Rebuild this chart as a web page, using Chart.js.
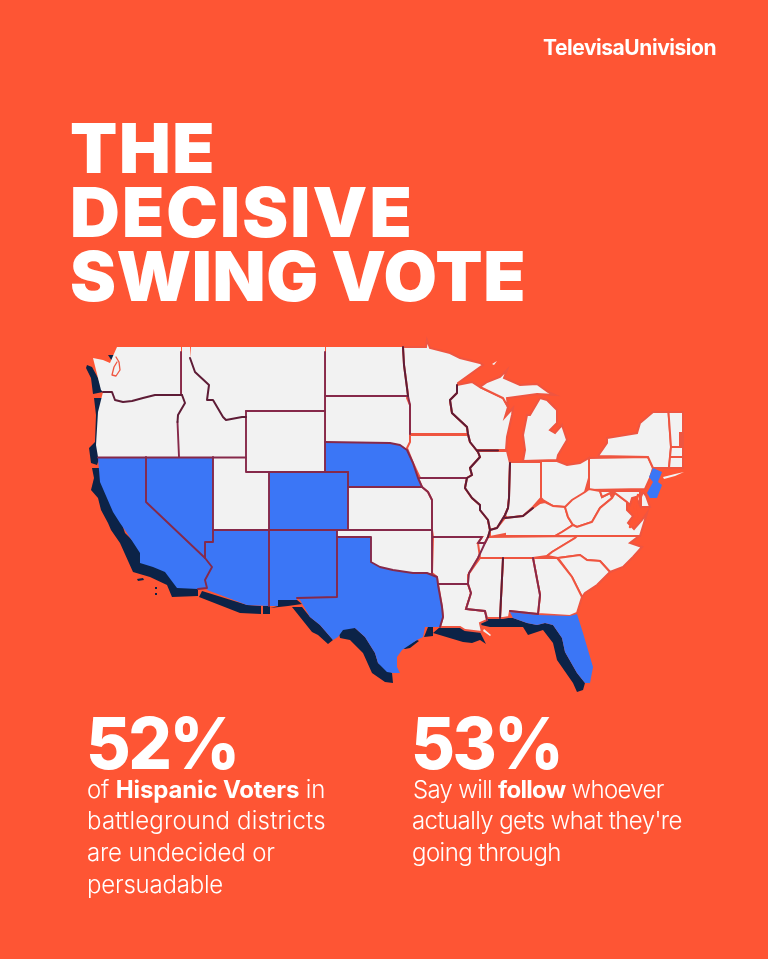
<!DOCTYPE html>
<html><head><meta charset="utf-8">
<script src="https://cdn.jsdelivr.net/npm/chart.js@4/dist/chart.umd.min.js"></script>
<style>
html,body{margin:0;padding:0;background:#fe5534;width:768px;height:959px;overflow:hidden}
#wrap{position:relative;width:768px;height:959px}
canvas{position:absolute;left:0;top:0}
.t{position:absolute;white-space:nowrap;color:#fff;font-family:Inter,"Liberation Sans",sans-serif}
.h{font-size:69px;font-weight:900;line-height:64px}
.n{font-size:71px;font-weight:800;line-height:60px;letter-spacing:-2.6px;transform-origin:left top}
.s{font-size:24px;font-weight:300;line-height:32px}
.s b{font-weight:700}
.l{font-size:21px;font-weight:700;line-height:24px;letter-spacing:-0.45px}
</style></head><body><div id="wrap">
<canvas id="c" width="768" height="959"></canvas>
<div class="t l" style="left:543px;top:36px">TelevisaUnivision</div>
<div class="t h" style="left:70px;top:116px;letter-spacing:1.6px">THE</div>
<div class="t h" style="left:70px;top:180px;letter-spacing:2.1px">DECISIVE</div>
<div class="t h" style="left:70px;top:244px;letter-spacing:0.6px;word-spacing:-2px">SWING VOTE</div>
<div class="t n" style="left:86px;top:713px;transform:scaleX(.967)">52%</div>
<div class="t n" style="left:411px;top:713px;transform:scaleX(.95)">53%</div>
<div class="t s" style="left:87px;top:774px;letter-spacing:-0.15px">of <b>Hispanic Voters</b> in</div>
<div class="t s" style="left:87px;top:805px;letter-spacing:0.2px">battleground districts</div>
<div class="t s" style="left:87px;top:837px;letter-spacing:-0.15px">are undecided or</div>
<div class="t s" style="left:87px;top:869px;letter-spacing:-0.2px">persuadable</div>
<div class="t s" style="left:413px;top:774px;letter-spacing:-0.68px">Say will <b>follow</b> whoever</div>
<div class="t s" style="left:412px;top:805px;letter-spacing:-0.58px">actually gets what they're</div>
<div class="t s" style="left:412px;top:837px;letter-spacing:-0.55px">going through</div>
</div>
<script>
// Outlines, in map units
const navyPieces = [
 [[87,365],[92,367],[98,378],[103,392],[93,394],[91,378],[86,368]],
 [[108,355],[116,355],[118,360],[112,361]],
 [[94,398],[102,398],[100,440],[100,456],[97,465],[91,463],[89,448],[95,442],[96,415]],
 [[92,468],[100,468],[105,490],[118,512],[125,533],[145,553],[145,563],[170,572],[182,585],[198,585],[198,596],[172,597],[167,585],[150,577],[133,572],[120,543],[111,530],[108,523],[101,510],[98,498],[91,490],[94,478]],
 [[199,597],[202,591],[247,605],[261,606],[261,614],[240,613]],
 [[263,606],[270,606],[270,614],[263,614]],
 [[270,608],[278,606],[278,600],[297,600],[302,604],[288,606]],
 [[292,607],[302,607],[310,617],[320,625],[333,640],[328,644],[318,635],[312,632]],
 [[339,633],[345,626],[355,628],[365,637],[375,653],[378,663],[392,673],[393,683],[385,682],[372,673],[363,653],[350,640],[340,638]],
 [[402,648],[417,640],[419,641],[410,648],[405,649]],
 [[424,637],[428,627],[433,627],[433,636]],
 [[433,633],[440,627],[460,627],[465,630],[480,632],[483,638],[486,644],[480,640],[472,643],[463,642]],
 [[478,622],[482,618],[513,618],[527,623],[537,625],[545,623],[553,625],[562,638],[565,652],[577,673],[585,683],[583,690],[577,692],[573,683],[557,660],[553,643],[543,630],[528,635],[523,627],[490,627],[481,625]],
 [[137,579],[143,578],[144,580],[138,581]],
 [[155,587],[157,587],[157,589],[155,589]],
 [[155,593],[157,593],[157,595],[155,595]]
];
const CA=[[98,458],[146,457],[146,502],[205,558],[212,567],[205,580],[207,588],[198,589],[177,588],[165,572],[153,567],[140,563],[140,553],[127,533],[120,523],[113,512],[100,482]];
const NV=[[146,457],[213,457],[213,542],[205,542],[205,558],[146,502]];
const AZ=[[213,530],[269,530],[269,606],[247,605],[207,590],[205,580],[212,567],[205,558],[205,542],[213,542]];
const NM=[[269,530],[337,530],[337,597],[297,598],[297,600],[278,600],[278,606],[269,606]];
const CO=[[269,472],[348,472],[348,530],[269,530]];
const NE=[[325,442],[390,443],[400,445],[407,450],[413,465],[418,478],[422,487],[348,487],[348,472],[325,472]];
const TX=[[337,537],[371,537],[371,562],[380,567],[393,570],[413,573],[427,573],[437,577],[438,585],[442,607],[443,617],[440,627],[425,627],[423,637],[417,640],[402,650],[397,657],[397,667],[400,673],[393,673],[387,672],[378,663],[375,653],[365,637],[355,628],[343,630],[338,637],[333,640],[320,625],[310,617],[300,600],[297,598],[337,597]];
const FL=[[510,612],[538,615],[570,616],[577,614],[583,633],[593,667],[590,683],[585,683],[577,673],[565,652],[562,638],[553,625],[545,623],[537,625],[527,623],[513,618]];
const NJ=[[653,468],[662,472],[658,482],[662,485],[657,498],[650,498],[647,493],[653,482],[649,477]];
const WA=[[117,347],[181,347],[181,395],[155,395],[143,398],[132,401],[123,402],[115,400],[112,392],[103,392],[101,390],[98,378],[93,358],[103,360],[110,363],[113,356]];
const OR=[[103,392],[112,392],[115,400],[123,402],[132,401],[143,398],[155,395],[182,395],[185,403],[178,415],[177.5,422],[179,457],[98,457],[96,445],[98,412]];
const ID=[[182,347],[190,347],[190,358],[195,372],[209,385],[207,400],[213,400],[223,417],[226,420],[242,417],[246,417],[246,457],[179,457],[177.5,422],[178,415],[185,403],[182,395]];
const MT=[[191,347],[325,347],[325,411],[246,411],[246,417],[242,417],[226,420],[223,417],[213,400],[207,400],[209,385],[195,372],[190,358]];
const WY=[[246,411],[325,411],[325,472],[246,472]];
const UT=[[213,457],[246,457],[246,472],[269,472],[269,530],[213,530]];
const ND=[[326,347],[402,347],[404,365],[407,388],[408,396],[326,396]];
const SD=[[326,396],[408,396],[410,405],[410,442],[407,450],[400,445],[390,443],[326,442]];
const KS=[[348,487],[422,487],[428,492],[432,500],[432,530],[348,530]];
const OK=[[337,530],[432,530],[433,537],[432,573],[427,573],[413,573],[393,570],[380,568],[371,562],[371,537],[337,537]];
const MN=[[403,347],[426,347],[427,340],[430,348],[450,353],[460,358],[480,363],[483,365],[458,383],[457,393],[450,400],[452,413],[467,427],[468,434],[410,434],[410,405],[407,398],[408,395],[404,365]];
const IA=[[410,435],[468,435],[470,442],[478,452],[480,457],[470,468],[472,475],[467,478],[420,478],[413,463],[407,448],[410,442]];
const MO=[[420,478],[467,478],[465,488],[472,498],[480,505],[480,510],[488,520],[490,530],[488,537],[485,543],[478,543],[482,537],[433,537],[432,530],[432,500],[428,492],[422,487],[418,478]];
const AR=[[433,537],[482,537],[478,543],[485,543],[478,558],[469,573],[468,584],[438,584],[437,577],[432,573]];
const LA=[[438,584],[468,584],[471,593],[466,609],[485,611],[487,620],[480,623],[482,632],[465,630],[460,627],[440,627],[443,617],[442,607]];
const WI=[[457,385],[472,382],[480,387],[503,398],[508,407],[505,417],[513,408],[512,415],[507,437],[506,450],[477,450],[478,452],[470,442],[468,434],[467,427],[452,413],[450,400],[457,393]];
const MIU=[[480,387],[487,382],[500,377],[507,370],[504,378],[520,385],[537,384],[548,392],[555,395],[537,394],[507,398],[508,407],[503,398]];
const MIL=[[540,398],[547,400],[557,410],[557,423],[550,430],[555,433],[562,425],[567,440],[558,455],[557,460],[523,461],[525,450],[523,435],[527,415],[530,415]];
const IL=[[477,451],[507,451],[510,463],[509,498],[508,508],[505,515],[497,528],[490,530],[488,520],[480,510],[480,505],[472,498],[465,488],[467,478],[472,475],[470,468],[480,457],[478,452]];
const IN=[[510,462],[541,462],[541,498],[533,507],[523,516],[507,518],[505,515],[508,508],[509,498]];
const OH=[[541,461],[557,461],[567,465],[580,463],[589,458],[589,478],[585,492],[577,500],[568,508],[565,507],[553,506],[543,500],[541,498]];
const PA=[[589,458],[648,457],[653,468],[650,478],[645,489],[589,490]];
const NY=[[598,456],[607,443],[607,438],[637,433],[640,423],[653,412],[668.5,412],[671,447],[670,457],[669,468],[653,468],[648,457]];
const VT=[[668.5,412],[683,412],[683,433],[680,433],[680,447],[671,447]];
const NH=[[681,435],[683,435],[683,445],[681,445]];
const MA=[[671,447],[683,447],[683,457],[670,457]];
const CT=[[670,457],[683,457],[683,468],[669,468]];
const LI=[[663,477],[675,474],[684,472],[675,476],[664,479]];
const KY=[[490,530],[497,528],[505,518],[523,516],[533,508],[540,503],[545,502],[553,506],[565,507],[568,517],[573,525],[562,532],[555,536],[505,536],[505,534],[490,537]];
const WV=[[565,507],[572,500],[585,492],[589,489],[600,491],[602,497],[610,493],[612,498],[600,508],[592,522],[577,527],[573,525],[568,517]];
const VA=[[555,536],[562,532],[573,525],[577,527],[592,522],[600,508],[612,498],[615,493],[627,502],[627,510],[633,516],[628,523],[634,529],[642,520],[647,513],[640,536]];
const MD=[[600,491],[640,491],[640,505],[636,497],[632,498],[630,505],[627,502],[615,493],[610,493],[602,497]];
const DE=[[643,492],[646,496],[650,507],[641,507],[641,497]];
const TN=[[488,537],[577,536],[575,538],[552,552],[547,556],[533,558],[480,558],[478,543],[485,543]];
const NC=[[577,536],[639,536],[630,543],[642,547],[633,557],[623,567],[610,572],[600,561],[587,560],[580,555],[558,558],[547,556],[552,552],[575,538]];
const SC=[[558,558],[580,555],[587,560],[600,561],[610,572],[597,585],[585,593],[582,597],[572,577]];
const GA=[[533,558],[557,558],[572,577],[582,597],[577,613],[570,616],[538,614],[540,595]];
const AL=[[503,558],[533,558],[540,595],[538,614],[510,611],[509,617],[503,618],[500,618]];
const MS=[[480,558],[503,558],[500,618],[487,618],[485,611],[466,609],[471,593],[468,584],[468,575],[475,565]];
const islands=[[[484,629],[491,635],[490,636],[483,631]],[[492,364],[497,361],[494,365]]];

const blueStates=[CA,NV,AZ,NM,CO,NE,TX,FL,NJ];
const plainWest=[WA,OR,ID,MT,WY,UT,ND,SD,KS,OK];
const plainEast=[MN,IA,MO,AR,LA,WI,MIU,MIL,IL,IN,OH,PA,NY,VT,NH,MA,CT,KY,WV,VA,MD,DE,TN,NC,SC,GA,AL,MS];

const darkLines=[
 [[103,392],[112,392],[115,400],[123,402],[132,401],[143,398],[155,395],[182,395]],
 [[190,358],[195,372],[209,385],[207,400],[213,400],[223,417],[226,420],[242,417],[246,417]],
 [[182,395],[185,403],[178,415],[177.5,422]],
 [[457,385],[457,393],[450,400],[452,413],[467,427],[468,434],[470,442],[478,452],[480,457],[470,468],[472,475],[467,478],[465,488],[472,498],[480,505],[480,510],[488,520],[490,530],[488,537]],
 [[477,450.5],[498,450.5]],
 [[510,463],[509,498],[508,508],[505,515],[497,528],[490,530]],
 [[505,518],[523,516],[533,508]],
 [[503,558],[500,618]],
 [[403,347],[404,365],[407,388],[408,396]]
];
const maroonLines=[
 [[181,352],[181,395]],
 [[177.5,422],[179,457]],
 [[98,457.5],[246,457.5]],
 [[325,352],[325,472]],
 [[246,411],[325,411]],
 [[246,411],[246,472],[348,472]],
 [[269,472],[269,606]],
 [[348,472],[348,530]],
 [[348,487],[422,487]],
 [[325,396],[408,396]],
 [[325,442],[390,443],[400,445],[407,450],[413,463],[418,478],[422,487],[428,492],[432,500],[432,573]],
 [[408,396],[410,405],[410,434]],
 [[213,457],[213,542],[205,542],[205,558],[212,567],[205,580],[207,588],[198,589]],
 [[146,457],[146,502],[205,558]],
 [[213,530],[432,530]],
 [[337,530],[337,597],[297,598]],
 [[337,537],[371,537],[371,562],[380,567],[393,570],[413,573],[427,573],[437,577],[438,585],[442,607],[443,617],[440,627]],
 [[420,478],[467,478]],
 [[438,584],[468,584]],
 [[433,537],[482,537],[478,543],[485,543],[488,537]],
 [[485,543],[478,558],[469,573],[468,584],[471,593],[466,609],[485,611],[487,620]],
 [[533,558],[540,595],[538,614]],
 [[510,611],[538,614]]
];
const redLines=[[[116,357],[119,362],[120,370],[116,376],[112,375],[114,367],[117,362]]];
const bayLines=[[[638,495],[635,507],[637,517],[630,527]]];

const NAVY='#0c2347',BLUE='#3b76f6',LAND='#f2f2f2',RED='#ef5540',MAROON='#86294a',DARK='#5e1c36',BG='#fe5534';
const close=p=>p.concat([p[0]]);
const shape=(p,fill,stroke,w)=>({data:close(p),showLine:true,pointRadius:0,tension:0,fill:'shape',backgroundColor:fill,borderColor:stroke,borderWidth:w});
const line=(p,stroke,w)=>({data:p,showLine:true,pointRadius:0,tension:0,fill:false,borderColor:stroke,borderWidth:w,borderJoinStyle:'round',borderCapStyle:'round'});
const paint=[
 ...navyPieces.map(p=>shape(p,NAVY,NAVY,0)),
 ...plainWest.map(p=>shape(p,LAND,LAND,0)),
 ...plainEast.map(p=>shape(p,LAND,RED,2)),
 ...blueStates.map(p=>shape(p,BLUE,BLUE,0)),
 shape(LI,LAND,LAND,0),
 ...islands.map(p=>shape(p,LAND,LAND,0)),
 ...maroonLines.map(p=>line(p,MAROON,1.9)),
 ...darkLines.map(p=>line(p,DARK,2)),
 ...redLines.map(p=>line(p,RED,1.3)),
 ...bayLines.map(p=>line(p,BG,2.5))
];
// Chart.js paints the first dataset last, so hand them over in reverse
new Chart(document.getElementById('c'),{
 type:'scatter',
 data:{datasets:paint.reverse()},
 options:{
  responsive:false,animation:false,devicePixelRatio:1,
  layout:{padding:0},
  plugins:{legend:{display:false},tooltip:{enabled:false},title:{display:false}},
  events:[],
  scales:{
   x:{type:'linear',min:0,max:768,display:false},
   y:{type:'linear',min:0,max:959,reverse:true,display:false}
  }
 }
});
</script></body></html>
